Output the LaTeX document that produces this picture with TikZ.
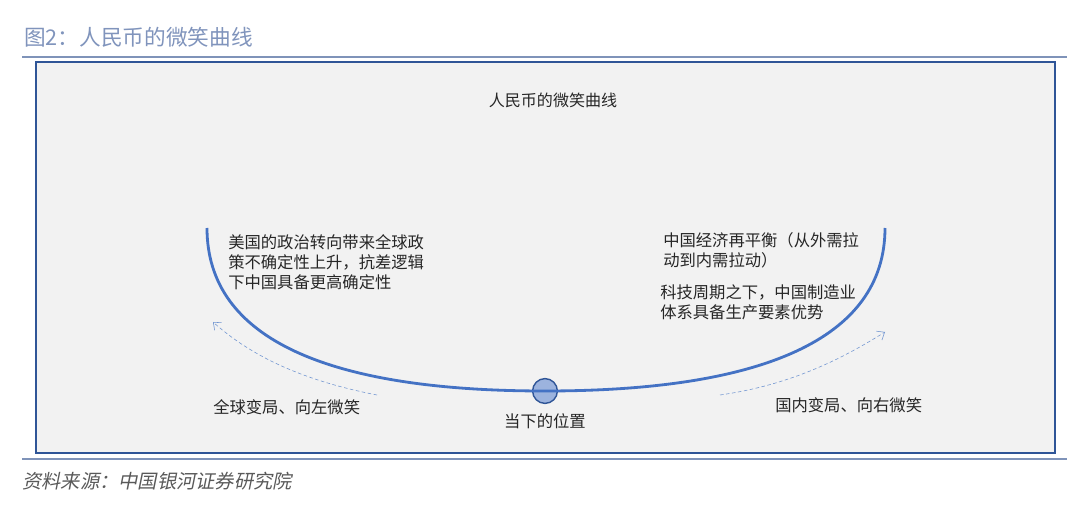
\documentclass[tikz,border=0pt]{standalone}
\usepackage{fontspec}
\setmainfont{Noto Sans CJK SC}
\newfontfamily\cjkslant[FakeSlant=0.2]{Noto Sans CJK SC}
\usepackage{tikz}
\usetikzlibrary{positioning,arrows.meta}
\definecolor{cTitle}{HTML}{8094BC}
\definecolor{cRule}{HTML}{7F93B9}
\definecolor{cFrame}{HTML}{2F5597}
\definecolor{cPanel}{HTML}{F2F2F2}
\definecolor{cCurve}{HTML}{4472C4}
\definecolor{cDot}{HTML}{8EA9DB}
\definecolor{cArrow}{HTML}{6F94D0}
\definecolor{cText}{HTML}{262626}
\definecolor{cNote}{HTML}{595959}

\begin{document}
\begin{tikzpicture}[
  x=0.025cm,y=-0.025cm,
  txt/.style={font=\fontsize{11.6}{14.2}\selectfont,text=cText,align=left,inner sep=0pt},
  lbl/.style={txt,anchor=west},
  dot/.style={circle,draw=cFrame,fill=cDot,fill opacity=0.85,line width=1pt,minimum size=0.62cm,inner sep=0pt},
  curve/.style={draw=cCurve,line width=2pt},
  ar/.style={-{Straight Barb[length=1.6mm,width=2.6mm]},draw=cArrow,thin,dash pattern=on 2.5pt off 1.8pt}
]
\useasboundingbox (0,0) rectangle (1080,511);
% heading and rules
\node[anchor=west,inner sep=0pt,text=cTitle,font=\fontsize{15.4}{17}\selectfont] (head) at (24,37) {图2：人民币的微笑曲线};
\draw[cRule,line width=1.8pt] (22,57) -- (1067,57);
\draw[cRule,line width=1.8pt] (22,459) -- (1067,459);
\node[anchor=west,inner sep=0pt,text=cNote,font=\cjkslant\fontsize{13.7}{16}\selectfont] (src) at (22,481) {资料来源：中国银河证券研究院};
% panel
\draw[draw=cFrame,fill=cPanel,line width=1.4pt] (36,62) rectangle (1055,453);
\node[txt,font=\fontsize{11.4}{14}\selectfont] (ptitle) at (553,100) {人民币的微笑曲线};
% smile curve
\coordinate (lefttop) at (207,228);
\coordinate (righttop) at (885,228);
\node[dot] (now) at (545,391) {};
\draw[curve] (lefttop) .. controls (207,340) and (330,391) .. (now.center)
                       .. controls (760,391) and (885,340) .. (righttop);
\node[txt,below=2.2mm of now] (nowlbl) {当下的位置};
% notes
\node[lbl] (usnote) at (228,262.5) {美国的政治转向带来全球政\\策不确定性上升，抗差逻辑\\下中国具备更高确定性};
\node[lbl] (cnnote) at (663,250.5) {中国经济再平衡（从外需拉\\动到内需拉动）};
\node[lbl] (technote) at (660,302.5) {科技周期之下，中国制造业\\体系具备生产要素优势};
% dashed arrows
\coordinate (lsrc) at (377,395);
\coordinate (ltip) at (213,322);
\coordinate (rsrc) at (720,395);
\coordinate (rtip) at (885,332);
\draw[ar] (lsrc) .. controls (300,380) and (250,355) .. (ltip);
\draw[ar] (rsrc) .. controls (790,385) and (840,360) .. (rtip);
\node[lbl] (leftlbl) at (213,407) {全球变局、向左微笑};
\node[lbl] (rightlbl) at (775,405) {国内变局、向右微笑};
\end{tikzpicture}
\end{document}
